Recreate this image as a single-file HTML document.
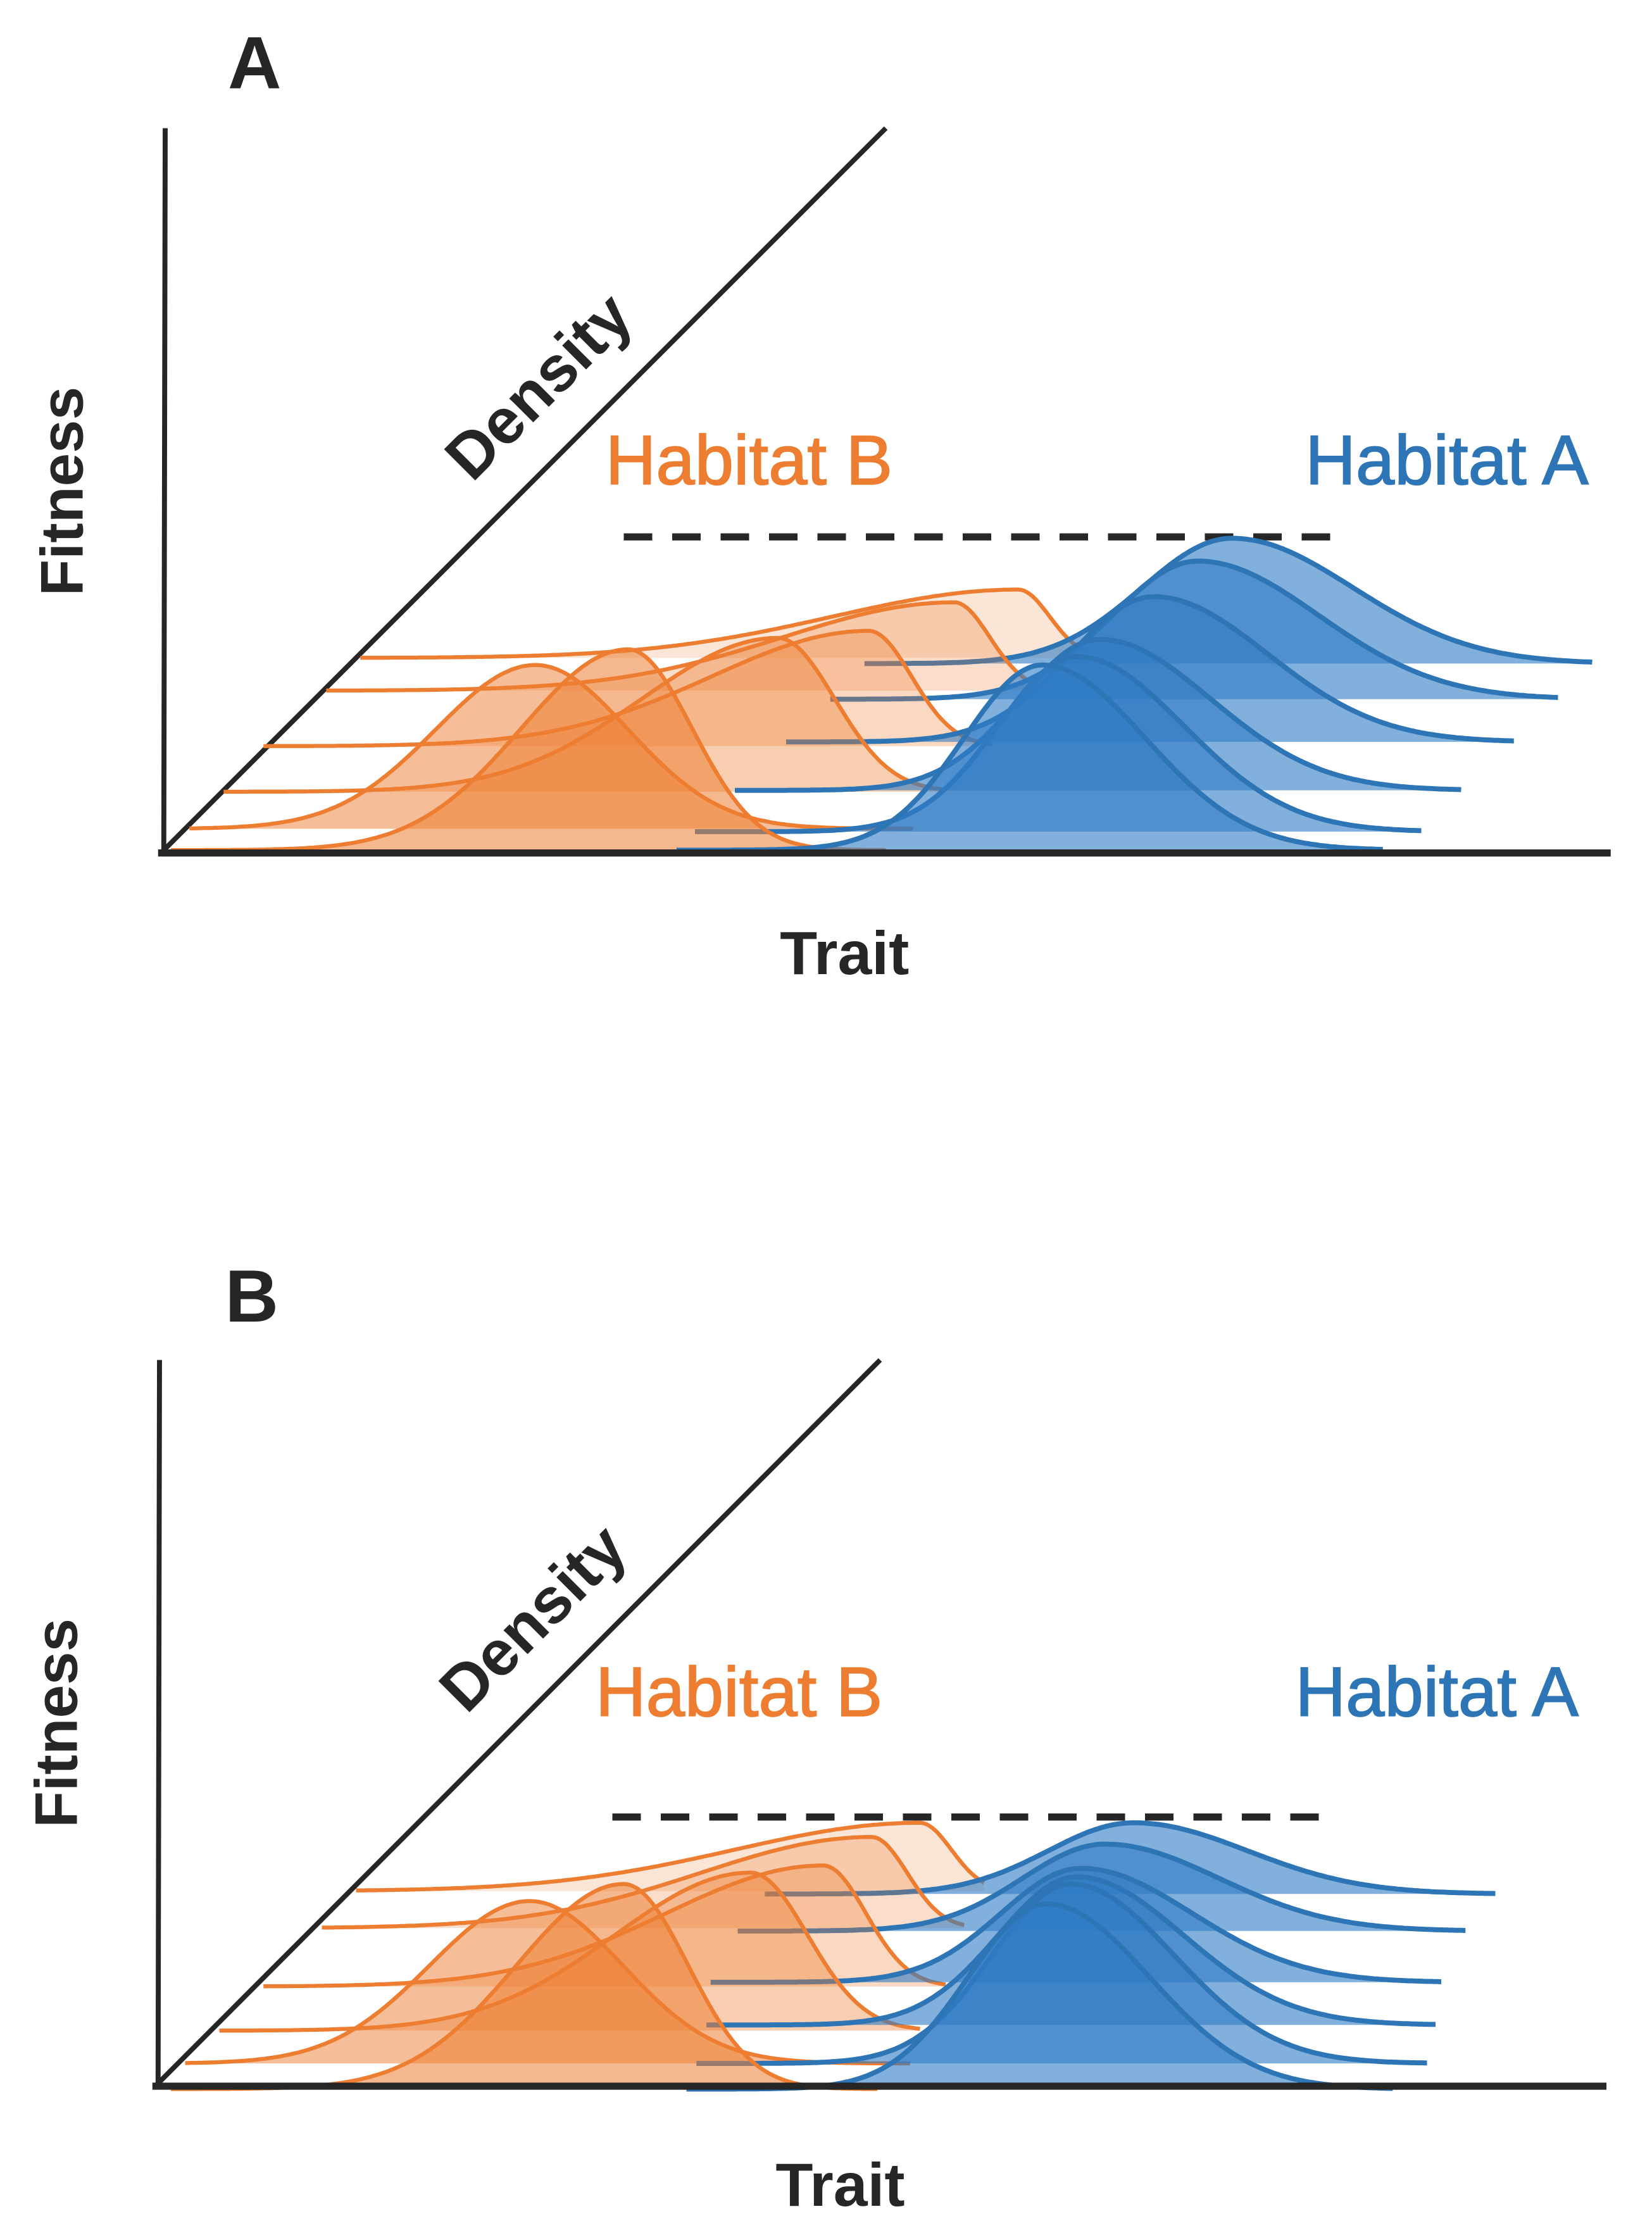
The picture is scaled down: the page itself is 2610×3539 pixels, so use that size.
<!DOCTYPE html>
<html><head><meta charset="utf-8"><style>
html,body{margin:0;padding:0;background:#fff;}
svg{display:block;}
text{font-family:"Liberation Sans",sans-serif;}
</style></head><body>
<svg id="fig" width="2610" height="3539" viewBox="0 0 1160 1573" preserveAspectRatio="none" xmlns="http://www.w3.org/2000/svg">
<rect width="1160" height="1573" fill="#fff"/>
<g id="panelA"></g>
<g id="panelB"></g>
<g id="labels">
 <text x="160" y="62" font-size="52" font-weight="bold" fill="#262626">A</text>
 <text x="158" y="928" font-size="52" font-weight="bold" fill="#262626">B</text>
 <text transform="translate(58,345) rotate(-90)" text-anchor="middle" font-size="42" font-weight="bold" fill="#262626">Fitness</text>
 <text transform="translate(54,1210) rotate(-90)" text-anchor="middle" font-size="42" font-weight="bold" fill="#262626">Fitness</text>
 <text transform="translate(389,282) rotate(-45)" text-anchor="middle" font-size="45" font-weight="bold" fill="#262626">Density</text>
 <text transform="translate(385,1147) rotate(-45)" text-anchor="middle" font-size="45" font-weight="bold" fill="#262626">Density</text>
 <text x="593" y="684" text-anchor="middle" font-size="43" font-weight="bold" fill="#262626">Trait</text>
 <text x="590" y="1549" text-anchor="middle" font-size="43" font-weight="bold" fill="#262626">Trait</text>
 <text x="526" y="340" text-anchor="middle" font-size="49" fill="#ed7d31" stroke="#ed7d31" stroke-width="0.8">Habitat B</text>
 <text x="1016" y="340" text-anchor="middle" font-size="49" fill="#2e75b6" stroke="#2e75b6" stroke-width="0.8">Habitat A</text>
 <text x="519" y="1205" text-anchor="middle" font-size="49" fill="#ed7d31" stroke="#ed7d31" stroke-width="0.8">Habitat B</text>
 <text x="1009" y="1205" text-anchor="middle" font-size="49" fill="#2e75b6" stroke="#2e75b6" stroke-width="0.8">Habitat A</text>
</g>
</svg>
<script>
// Panel A data
const aOrangeBase=[462,485,524,556,582,597];
const aOrangeStart=[253,229,185,157,133,120];
const aOrangeEnd=[764,735,697,663,641,622];
const aOrangePeak=[715,670,610,546,376,441];
const aOrangeHeight=[48,62,81,108,115,141];
const aOrangeSdL=[130,120,110,95,70,75];
const aOrangeSdR=[22,25,30,40,65,45];
const aBlueBase=[466,491,521,555,584,597];
const aBlueStart=[607,583,552,516,488,475];
const aBlueEnd=[1118,1094,1063,1026,998,971];
const aBluePeak=[865,841,810,772,756,732];
const aBlueHeight=[88,97,102,106,123,130];
const aBlueSdL=[63,60,58,56,55,55];
const aBlueSdR=[85,85,80,78,75,72];
// Panel B data
const bOrangeBase=[1328,1354,1395,1426,1449,1467];
const bOrangeStart=[250,226,185,154,130,120];
const bOrangeEnd=[691,677,664,646,639,616];
const bOrangePeak=[646,612,578,527,372,438];
const bOrangeHeight=[48,64,85,111,114,144];
const bOrangeSdL=[130,120,110,95,70,75];
const bOrangeSdR=[22,25,30,40,65,45];
const bBlueBase=[1330,1356,1392,1422,1449,1467];
const bBlueStart=[537,518,499,496,489,482];
const bBlueEnd=[1050,1029,1012,1008,1002,978];
const bBluePeak=[796,776,759,756,752,735];
const bBlueHeight=[50,61,80,104,126,130];
const bBlueSdL=[60,58,56,55,55,55];
const bBlueSdR=[80,80,78,75,72,72];
const orangeAlpha=[0.2,0.25,0.3,0.38,0.5,0.55];
const NS='http://www.w3.org/2000/svg';
function curve(pk,h,sl,sr,x){const s=x<pk?sl:sr;return h*Math.exp(-((x-pk)*(x-pk))/(2*s*s));}
function ridge(g,base,xs,xe,pk,h,sl,sr,fill,op,stroke,sw,name){
  let pts=[];
  for(let x=xs;x<=xe;x+=2){pts.push([x,base-curve(pk,h,sl,sr,x)]);}
  pts.push([xe,base-curve(pk,h,sl,sr,xe)]);
  const line=pts.map((p,i)=>(i?'L':'M')+p[0].toFixed(1)+','+p[1].toFixed(1)).join('');
  const f=document.createElementNS(NS,'path');
  f.setAttribute('d',line+'L'+xe+','+base+'L'+xs+','+base+'Z');
  f.setAttribute('fill',fill);f.setAttribute('fill-opacity',op);
  
  
  g.appendChild(f);
  const l=document.createElementNS(NS,'path');
  l.setAttribute('d',line);l.setAttribute('fill','none');
  l.setAttribute('stroke',stroke);l.setAttribute('stroke-width',sw);
  
  
  g.appendChild(l);
}
function mk(g,tag,attrs){const e=document.createElementNS(NS,tag);for(const k in attrs)e.setAttribute(k,attrs[k]);g.appendChild(e);return e;}
function panel(g,ax,O,B,dashY,dashX1,dashX2){
  const ya=mk(g,'line',{x1:ax.x0+3,y1:ax.top,x2:ax.x0+2,y2:ax.y0,stroke:'#262626','stroke-width':3.5});
  
  
  const dg=mk(g,'line',{x1:ax.x0,y1:ax.y0,x2:ax.dx,y2:ax.top,stroke:'#262626','stroke-width':3.5});
  
  
  const dsh=mk(g,'line',{x1:dashX1,y1:dashY,x2:dashX2,y2:dashY,stroke:'#262626','stroke-width':5,'stroke-dasharray':'20 14'});
  
  
  for(let i=0;i<6;i++){
    ridge(g,O[0][i],O[1][i],O[2][i],O[3][i],O[4][i],O[5][i],O[6][i],'#ed7d31',orangeAlpha[i],'#ed7d31',2.8,'habitat-b-ridge-'+i);
    ridge(g,B[0][i],B[1][i],B[2][i],B[3][i],B[4][i],B[5][i],B[6][i],'#2e7bc4',0.6,'#2e75b6',3.5,'habitat-a-ridge-'+i);
  }
  const xa=mk(g,'line',{x1:ax.x0-2,y1:ax.y0,x2:ax.x1,y2:ax.y0,stroke:'#262626','stroke-width':5});
  
  
}
panel(document.getElementById('panelA'),{x0:113,y0:599,x1:1131,top:90,dx:622},
 [aOrangeBase,aOrangeStart,aOrangeEnd,aOrangePeak,aOrangeHeight,aOrangeSdL,aOrangeSdR],
 [aBlueBase,aBlueStart,aBlueEnd,aBluePeak,aBlueHeight,aBlueSdL,aBlueSdR],377,438,940);
panel(document.getElementById('panelB'),{x0:109,y0:1465,x1:1128,top:955,dx:618},
 [bOrangeBase,bOrangeStart,bOrangeEnd,bOrangePeak,bOrangeHeight,bOrangeSdL,bOrangeSdR],
 [bBlueBase,bBlueStart,bBlueEnd,bBluePeak,bBlueHeight,bBlueSdL,bBlueSdR],1276,430,935);
</script>
</body></html>
